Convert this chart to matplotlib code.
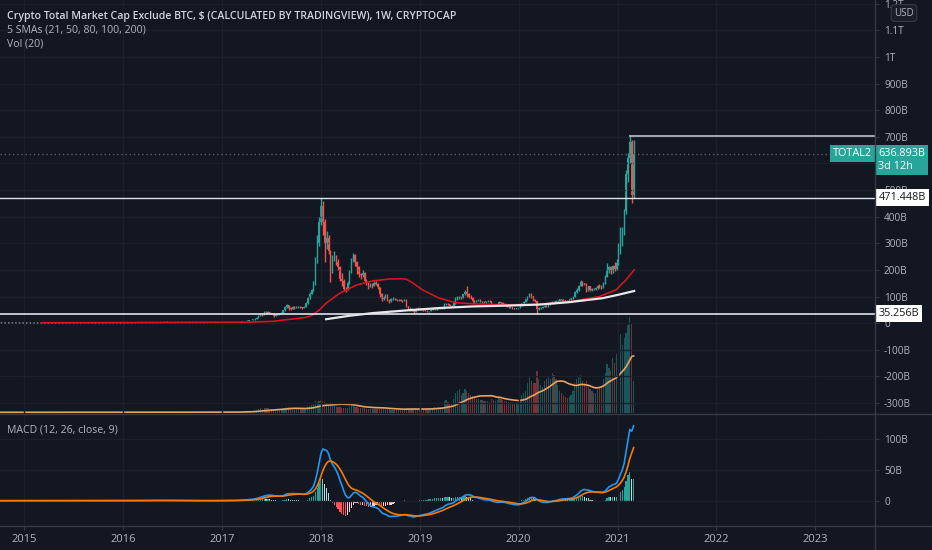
import numpy as np
import pandas as pd
import matplotlib
matplotlib.use('Agg')
import matplotlib.pyplot as plt
import matplotlib.dates as mdates
import matplotlib.transforms as mtransforms
from matplotlib.lines import Line2D

# weekly closes (billions USD), 2014-10-06 .. 2016-12-26, too small to see as candles
early_close = [
    1.5, 1.5, 1.4, 1.4, 1.3, 1.3, 1.3, 1.2, 1.2, 1.2, 1.1, 1.1, 1.1,
    1.0, 0.9, 0.9, 0.9, 0.9, 0.9, 0.9, 0.9, 0.9, 0.9, 0.9, 0.8, 0.8,
    0.8, 0.8, 0.8, 0.8, 0.8, 0.8, 0.8, 0.8, 0.8, 0.8, 0.8, 0.8, 0.8,
    0.9, 1.0, 1.0, 1.1, 1.3, 1.5, 1.4, 1.3, 1.2, 1.1, 1.1, 1.1, 1.0,
    1.0, 1.0, 1.1, 1.1, 1.1, 1.2, 1.1, 1.1, 1.1, 1.2, 1.2, 1.2, 1.3,
    1.4, 1.4, 1.5, 1.6, 1.7, 1.9, 2.0, 2.3, 2.4, 2.6, 2.6, 2.5, 2.4,
    2.4, 2.5, 2.5, 2.6, 2.6, 2.5, 2.7, 2.8, 3.1, 3.4, 3.6, 2.9, 2.8,
    2.8, 2.6, 2.7, 3.1, 2.8, 2.6, 2.6, 2.6, 2.5, 2.5, 2.5, 2.5, 2.5,
    2.4, 2.4, 2.4, 2.3, 2.4, 2.6, 2.8, 2.6, 2.5, 2.6, 2.7, 2.9, 3.1,
]
early_vol = [
    0.2, 0.2, 0.2, 0.2, 0.2, 0.2, 0.1, 0.1, 0.1, 0.1, 0.1, 0.1, 0.1,
    0.1, 0.1, 0.1, 0.1, 0.1, 0.1, 0.1, 0.1, 0.1, 0.1, 0.1, 0.1, 0.1,
    0.1, 0.1, 0.1, 0.1, 0.1, 0.1, 0.1, 0.1, 0.1, 0.1, 0.1, 0.1, 0.1,
    0.1, 0.1, 0.1, 0.2, 0.2, 0.2, 0.2, 0.2, 0.1, 0.1, 0.1, 0.1, 0.1,
    0.1, 0.1, 0.1, 0.1, 0.1, 0.1, 0.1, 0.1, 0.1, 0.1, 0.1, 0.1, 0.2,
    0.2, 0.2, 0.2, 0.2, 0.2, 0.3, 0.3, 0.3, 0.3, 0.3, 0.3, 0.3, 0.3,
    0.3, 0.3, 0.3, 0.3, 0.3, 0.3, 0.3, 0.3, 0.4, 0.4, 0.4, 0.4, 0.3,
    0.3, 0.3, 0.3, 0.3, 0.3, 0.3, 0.3, 0.3, 0.3, 0.3, 0.3, 0.3, 0.3,
    0.3, 0.3, 0.3, 0.3, 0.3, 0.3, 0.3, 0.3, 0.3, 0.3, 0.3, 0.3, 0.4,
]

# weekly candles 2017-01-02 .. 2021-03-01 (billions USD), one row per month
close = [
    3.5, 3.4, 3.6, 3.7, 3.8,  3.9, 4.1, 4.5, 5.2,  6.0, 7.5, 8.0, 9.5,  10, 10.5, 12, 14,
    17, 21, 27, 33, 32,  40, 36, 42, 38,  36, 28, 33, 35, 34,  40, 48, 60, 68,
    58, 55, 62, 58,  60, 62, 60, 58, 62,  75, 95, 110, 125,  150, 230, 300, 380,
    440, 380, 300, 320, 270,  200, 240, 250, 230,  210, 165, 160, 130,  128, 150, 195, 235, 255,
    230, 210, 185, 180,  190, 160, 150, 140,  145, 140, 150, 148, 135,  110, 90, 100, 105,
    88, 82, 90, 92,  90, 86, 87, 85, 84,  88, 65, 52, 55,  46, 42, 55, 52, 54,
    50, 48, 47, 44,  45, 50, 55, 52,  54, 56, 57, 56,  72, 74, 72, 66, 65,
    75, 92, 95, 100,  95, 108, 118, 110,  100, 98, 85, 80, 84,  88, 80, 80, 78,
    82, 85, 82, 70, 68,  70, 70, 78, 76,  74, 70, 62, 60,  60, 57, 55, 56, 57,
    65, 75, 80, 90,  100, 110, 102, 88,  82, 52, 56, 58, 62,  66, 64, 70, 78,
    80, 78, 82, 84,  90, 87, 86, 85, 84,  90, 94, 100, 118,  125, 140, 155, 150, 148,
    128, 138, 125, 130,  128, 132, 140, 138,  135, 150, 175, 200, 210,  195, 215, 205, 225,
    290, 330, 350, 420,  560, 620, 680, 480,  637,
]
high = [
    3.7, 3.6, 3.8, 3.9, 4.0,  4.1, 4.3, 4.8, 5.5,  6.4, 8.2, 8.8, 10,  11, 11.5, 12.8, 15,
    18, 23, 30, 36, 38,  45, 44, 47, 43,  40, 37, 35, 38, 37,  42, 50, 64, 72,
    70, 62, 64, 63,  63, 65, 64, 62, 64,  78, 100, 118, 130,  160, 250, 330, 400,
    470, 460, 390, 345, 330,  275, 255, 270, 255,  240, 215, 190, 165,  135, 160, 200, 245, 262,
    260, 232, 215, 190,  200, 192, 165, 155,  150, 150, 158, 160, 150,  136, 115, 103, 110,
    108, 92, 94, 98,  95, 92, 90, 92, 87,  92, 90, 66, 60,  57, 50, 58, 60, 58,
    56, 52, 50, 48,  47, 52, 57, 58,  56, 58, 59, 58,  75, 77, 76, 74, 68,
    78, 98, 102, 104,  104, 110, 124, 138,  112, 106, 100, 88, 88,  92, 90, 84, 84,
    84, 88, 88, 84, 72,  72, 74, 82, 80,  78, 76, 72, 64,  63, 61, 58, 59, 59,
    67, 77, 84, 92,  103, 115, 114, 104,  92, 84, 60, 62, 64,  69, 70, 73, 80,
    85, 82, 86, 88,  92, 92, 90, 88, 87,  92, 96, 102, 122,  132, 145, 164, 160, 152,
    150, 140, 140, 133,  134, 136, 145, 146,  142, 155, 180, 228, 215,  215, 220, 230, 240,
    300, 360, 360, 430,  575, 640, 705, 690,  690,
]
low = [
    3.3, 3.2, 3.3, 3.5, 3.6,  3.7, 3.8, 4.0, 4.4,  5.0, 6.0, 7.0, 7.6,  9.0, 9.6, 10.2, 11.6,
    13.5, 16.5, 20, 26, 28,  31, 33, 35, 34,  33, 25, 27, 32, 31,  33, 39, 47, 58,
    48, 50, 53, 55,  56, 58, 57, 55, 56,  60, 72, 92, 108,  120, 145, 225, 290,
    370, 330, 230, 280, 260,  155, 190, 235, 220,  200, 160, 140, 120,  118, 125, 148, 190, 230,
    215, 185, 172, 165,  175, 155, 145, 128,  135, 132, 138, 142, 130,  100, 85, 88, 96,
    84, 75, 80, 86,  86, 83, 82, 82, 80,  82, 60, 48, 44,  44, 38, 41, 49, 50,
    48, 45, 44, 42,  41, 44, 49, 50,  50, 53, 54, 54,  55, 69, 68, 64, 62,
    63, 72, 88, 92,  90, 94, 106, 100,  95, 92, 78, 76, 78,  82, 78, 75, 76,
    76, 80, 80, 66, 64,  66, 68, 68, 73,  72, 68, 60, 57,  58, 55, 52, 54, 55,
    56, 64, 73, 78,  88, 98, 95, 85,  78, 36, 48, 52, 56,  60, 60, 62, 68,
    72, 72, 76, 80,  84, 80, 83, 82, 82,  83, 88, 92, 98,  114, 122, 138, 140, 142,
    118, 122, 122, 122,  124, 126, 130, 132,  130, 132, 148, 172, 190,  185, 190, 195, 200,
    220, 260, 290, 330,  410, 530, 600, 450,  470,
]
volume = [
    0.4, 0.4, 0.4, 0.4, 0.4,  0.5, 0.5, 0.6, 0.7,  0.9, 1.2, 1.1, 1.3,  1.2, 1.3, 1.5, 1.8,
    2.2, 2.8, 3.5, 4.5, 4.0,  4.5, 4.8, 4.2, 3.8,  3.5, 4.0, 3.2, 3.0, 2.8,  3.5, 4.2, 5.0, 5.5,
    6.0, 5.5, 4.5, 3.8,  3.5, 3.8, 3.5, 3.2, 3.5,  4.5, 6.0, 7.0, 7.5,  9.0, 12, 11, 12,
    13, 12, 11, 9, 8,  8, 7, 6.5, 6,  6, 5.5, 5, 4.5,  4.5, 5, 6, 7, 7,
    6, 5.5, 5, 4.5,  4.5, 4.2, 4, 3.8,  3.6, 3.6, 4, 4, 3.8,  4, 3.8, 3.5, 3.4,
    3.2, 3.2, 3, 3,  2.8, 2.8, 2.6, 2.5, 2.5,  3, 5, 5, 4,  3.8, 3.5, 4.2, 4, 3.8,
    3.5, 3.5, 3.4, 3.4,  3.6, 4, 5, 5.5,  5, 5.2, 5.5, 6,  12, 13, 11, 10, 10,
    14, 20, 22, 24,  18, 20, 24, 22,  20, 18, 17, 15, 14,  14, 13, 13, 12,
    12, 12, 11, 14, 13,  12, 13, 16, 14,  13, 12, 12, 11,  11, 10, 10, 9, 9,
    14, 18, 20, 22,  30, 36, 32, 30,  30, 42, 34, 28, 26,  32, 34, 36, 34,
    40, 38, 34, 28,  22, 20, 18, 16, 15,  16, 18, 22, 30,  34, 36, 38, 32, 30,
    32, 28, 24, 22,  20, 20, 24, 26,  28, 34, 40, 49, 45,  42, 55, 50, 59,
    72, 79, 68, 75,  80, 88, 96, 90,  32,
]

# moving averages (SMA 50 red, SMA 200 white)
sma50_dates = ['2015-03-07', '2016-04-08', '2017-04-13', '2017-07-07', '2017-11-07',
               '2017-12-01', '2017-12-26', '2018-01-20', '2018-03-10', '2018-05-11',
               '2018-07-11', '2018-09-11', '2018-10-19', '2018-11-11', '2018-12-05',
               '2019-01-11', '2019-03-14', '2019-05-15', '2019-07-15', '2019-11-15',
               '2020-01-03', '2020-03-17', '2020-07-06', '2020-10-25', '2020-12-26',
               '2021-02-01', '2021-03-03']
sma50_vals = [2, 2.6, 4, 7, 22, 31, 50, 75, 112, 143, 159, 166, 167, 166, 152,
              125, 94, 77, 73, 69, 70, 71, 81, 100, 125, 163, 200]
sma200_dates = ['2018-01-20', '2018-04-16', '2018-07-11', '2018-11-11', '2019-03-14',
                '2019-07-15', '2019-11-15', '2020-03-17', '2020-07-06', '2020-11-06',
                '2020-12-31', '2021-03-03']
sma200_vals = [15, 28, 38, 48, 57, 63, 66, 70, 79, 94, 106, 121]

last_price = 636.893
level_top = 471.448
level_bottom = 35.256
ray_level = 705
ray_start = '2021-02-12'

BG = '#131722'
TXT = '#b2b5be'
LINE = '#363a45'
GRID = '#1c202b'
UP = '#26a69a'
DOWN = '#ef5350'

plt.rcParams['font.family'] = ['Open Sans', 'DejaVu Sans']

early_dates = pd.date_range('2014-10-06', periods=len(early_close), freq='7D')
dates = pd.date_range('2017-01-02', periods=len(close), freq='7D')
all_dates = early_dates.append(dates)

c = np.array(close, dtype=float)
o = np.r_[early_close[-1], c[:-1]]
up = c >= o

all_close = pd.Series(early_close + close, dtype=float)
all_open = all_close.shift(1).fillna(all_close.iloc[0])
all_vol = np.array(early_vol + volume, dtype=float)
vol_ma = pd.Series(all_vol).rolling(20, min_periods=1).mean()

ema12 = all_close.ewm(span=12, adjust=False).mean()
ema26 = all_close.ewm(span=26, adjust=False).mean()
macd = ema12 - ema26
signal = macd.ewm(span=9, adjust=False).mean()
hist = macd - signal
prev = hist.shift(1).fillna(0)

fig = plt.figure(figsize=(9.32, 5.5), dpi=100, facecolor=BG)
W = 875 / 932
ax = fig.add_axes([0, 136 / 550, W, 414 / 550])
axm = fig.add_axes([0, 24 / 550, W, 112 / 550], sharex=ax)
axv = ax.twinx()
axv.set_zorder(ax.get_zorder() - 1)
ax.patch.set_visible(False)
axv.patch.set_visible(False)
axm.set_facecolor(BG)

xmin = pd.Timestamp('2014-10-03')
xmax = pd.Timestamp('2023-08-10')

# volume (own scale, bottom of the price pane)
vcol = [(38/255, 166/255, 154/255, 0.45) if cc >= oo else (239/255, 83/255, 80/255, 0.45)
        for cc, oo in zip(all_close, all_open)]
axv.bar(all_dates, all_vol, width=4.5, color=vcol, linewidth=0)
axv.plot(all_dates, vol_ma, color='#e9a25f', lw=1.2)
axv.set_ylim(-1.5, 412.5)
axv.yaxis.set_visible(False)
for s in axv.spines.values():
    s.set_visible(False)

# price pane
ax.plot(early_dates, early_close, color='#8a8e99', lw=1, ls=(0, (1, 1.6)))
ccol = np.where(up, UP, DOWN)
ax.vlines(dates, low, high, colors=ccol, lw=1)
ax.bar(dates, c - o, bottom=o, width=4.5, color=ccol, linewidth=0)
ax.plot(pd.to_datetime(sma50_dates), sma50_vals, color='#d9161e', lw=1.15)
ax.plot(pd.to_datetime(sma200_dates), sma200_vals, color='#e8e8ea', lw=1.6)

ax.axhline(level_top, color='#e0e3eb', lw=1)
ax.axhline(level_bottom, color='#e0e3eb', lw=1.2)
ax.axhline(last_price, color='#5d606b', lw=1, ls=(0, (1, 2)))
ax.hlines(ray_level, pd.Timestamp(ray_start), xmax, color='#b2b5be', lw=1.3)

ax.set_ylim(-341, 1214)
ax.set_xlim(xmin, xmax)
ax.set_yticks(np.arange(-300, 1201, 100))


def fmt(v, pos=None):
    if abs(v) < 1e-9:
        return '0'
    if v >= 1000:
        return f'{v / 1000:g}T'
    return f'{v:g}B'


def tick_fmt(v, pos=None):
    # 600B sits fully under the last-price label
    if abs(v - 600) < 1e-9:
        return ''
    return fmt(v)


ax.yaxis.set_major_formatter(plt.FuncFormatter(tick_fmt))
ax.yaxis.tick_right()
ax.tick_params(axis='y', colors=LINE, labelcolor=TXT, labelsize=7.2, length=3, pad=3.5)
ax.tick_params(axis='x', length=0, labelbottom=False)
ax.grid(True, color=GRID, lw=1)
for s in ax.spines.values():
    s.set_visible(False)

# MACD pane
hcol = []
for h, p in zip(hist, prev):
    if h >= 0:
        hcol.append('#26a69a' if h >= p else '#b2dfdb')
    else:
        hcol.append('#ffcdd2' if h > p else '#ff5252')
axm.bar(all_dates, hist, width=4.5, color=hcol, linewidth=0)
axm.plot(all_dates, macd, color='#2196f3', lw=1.2)
axm.plot(all_dates, signal, color='#f57c00', lw=1.2)
axm.set_ylim(-41.2, 141.2)
axm.set_yticks([0, 50, 100])
axm.yaxis.set_major_formatter(plt.FuncFormatter(fmt))
axm.yaxis.tick_right()
axm.tick_params(axis='y', colors=LINE, labelcolor=TXT, labelsize=7.2, length=3, pad=3.5)
axm.xaxis.set_major_locator(mdates.YearLocator())
axm.xaxis.set_major_formatter(mdates.DateFormatter('%Y'))
axm.tick_params(axis='x', colors=LINE, labelcolor=TXT, labelsize=8, length=3, pad=3)
axm.grid(True, color=GRID, lw=1)
for s in axm.spines.values():
    s.set_visible(False)

# pane borders
for xs, ys in [([0, 1], [136 / 550, 136 / 550]), ([0, 1], [24 / 550, 24 / 550]), ([W, W], [0, 1])]:
    fig.add_artist(Line2D(xs, ys, transform=fig.transFigure, color=LINE, lw=1))

# legends
fig.text(7 / 932, 1 - 18.5 / 550, 'Crypto Total Market Cap Exclude BTC, $ (CALCULATED BY TRADINGVIEW), 1W, CRYPTOCAP',
         color='#d1d4dc', fontsize=7.6, fontweight='semibold', va='baseline')
fig.text(7 / 932, 1 - 33 / 550, '5 SMAs (21, 50, 80, 100, 200)', color=TXT, fontsize=7.6, va='baseline')
fig.text(7 / 932, 1 - 47 / 550, 'Vol (20)', color=TXT, fontsize=7.6, va='baseline')
fig.text(7 / 932, 1 - 433 / 550, 'MACD (12, 26, close, 9)', color=TXT, fontsize=7.6, va='baseline')

fig.text(904 / 932, 1 - 13 / 550, 'USD', color=TXT, fontsize=7, ha='center', va='center',
         bbox=dict(boxstyle='round,pad=0.3,rounding_size=0.3', fc='#1a1e29', ec=LINE, lw=0.8))

# price axis labels
blend = mtransforms.blended_transform_factory(ax.transAxes, ax.transData)
ax.text(1.0035, last_price + 22, '636.893B\n3d 12h', transform=blend, ha='left', va='top',
        color='white', fontsize=7.8, linespacing=1.3, clip_on=False,
        bbox=dict(boxstyle='square,pad=0.3', fc=UP, ec='none'))
ax.text(0.9965, last_price, 'TOTAL2', transform=blend, ha='right', va='center',
        color='white', fontsize=7.8, clip_on=False,
        bbox=dict(boxstyle='square,pad=0.3', fc=UP, ec='none'))
for lv in [level_top, level_bottom]:
    ax.text(1.004, lv, fmt(lv), transform=blend, ha='left', va='center',
            color='#131722', fontsize=7.8, clip_on=False,
            bbox=dict(boxstyle='square,pad=0.28', fc='white', ec='none'))

fig.savefig('out.png', dpi=100, facecolor=BG)
